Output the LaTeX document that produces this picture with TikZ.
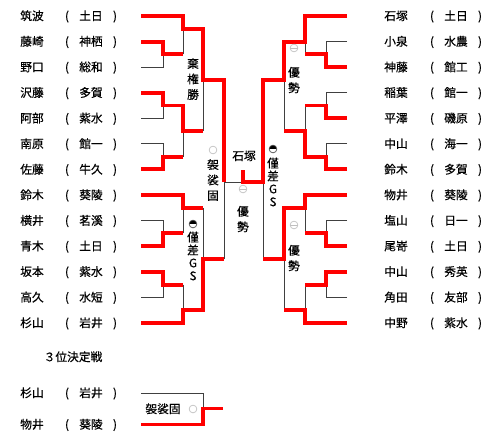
\documentclass[tikz,border=0pt]{standalone}
\usepackage{fontspec}
\usepackage{tikz}
\usetikzlibrary{positioning}
\newfontfamily\jpfont[FakeBold=0.5]{Noto Sans CJK JP}
\colorlet{colorWin}{red}
\colorlet{colorLose}{black!75}
\colorlet{colorMark}{gray!50}
\tikzset{
   win/.style={draw=colorWin,line width=3.4pt},
   lose/.style={draw=colorLose,line width=0.75pt},
   txt/.style={font=\jpfont\fontsize{10}{12}\selectfont,inner sep=0pt,text height=8.6pt,text depth=1.4pt},
   vtxt/.style={font=\jpfont\fontsize{10}{13.2}\selectfont,inner sep=0pt,align=center},
   gtxt/.style={font=\jpfont\fontsize{10}{11}\selectfont,inner sep=0pt,align=center},
   ippon/.style={circle,draw=colorMark,line width=0.6pt,minimum size=6.6pt,inner sep=0pt},
   yusei/.style={ippon,path picture={\draw[colorMark,line width=0.5pt] (path picture bounding box.west) -- (path picture bounding box.east);}},
   kinsa/.style={ippon,draw=black!70,path picture={\fill[black] (path picture bounding box.north west) rectangle (path picture bounding box.east);}},
}
\begin{document}
\begin{tikzpicture}[x=0.03cm,y=-0.03cm]
\useasboundingbox (0,0) rectangle (500,441);

% players
\foreach \nm/\sc [count=\i] in {筑波/土日,藤崎/神栖,野口/総和,沢藤/多賀,阿部/紫水,南原/館一,佐藤/牛久,鈴木/葵陵,横井/茗溪,青木/土日,坂本/紫水,高久/水短,杉山/岩井}{
  \pgfmathsetmacro\y{16+25.58*(\i-1)}
  \node[txt] (L\i) at (32,\y) {\nm};
  \node[txt] (Lo\i) at (67,\y) {(};
  \node[txt] (Ls\i) at (91,\y) {\sc};
  \node[txt] (Lc\i) at (115,\y) {)};
  \coordinate (a\i) at (141,\y);
}
\foreach \nm/\sc [count=\i] in {石塚/土日,小泉/水農,神藤/館工,稲葉/館一,平澤/磯原,中山/海一,鈴木/多賀,物井/葵陵,塩山/日一,尾嵜/土日,中山/秀英,角田/友部,中野/紫水}{
  \pgfmathsetmacro\y{16+25.58*(\i-1)}
  \node[txt] (R\i) at (396,\y) {\nm};
  \node[txt] (Ro\i) at (432,\y) {(};
  \node[txt] (Rs\i) at (456,\y) {\sc};
  \node[txt] (Rc\i) at (480,\y) {)};
  \coordinate (b\i) at (347,\y);
}

% match points
\coordinate (p1) at (163,54.4);  \coordinate (p2) at (163,105.5);
\coordinate (p3) at (163,156.7); \coordinate (p4) at (163,233.4);
\coordinate (p5) at (163,284.6);
\coordinate (q1) at (183,28.8);  \coordinate (q2) at (183,131.1);
\coordinate (q3) at (183,207.9); \coordinate (q4) at (183,310.2);
\coordinate (r1) at (203,80);    \coordinate (r2) at (203,259);
\coordinate (s1) at (224,182.3);
\coordinate (u1) at (326,54.4);  \coordinate (u2) at (326,105.5);
\coordinate (u3) at (326,156.7); \coordinate (u4) at (326,233.4);
\coordinate (u5) at (326,284.6);
\coordinate (v1) at (305,41.6);  \coordinate (v2) at (305,131.1);
\coordinate (v3) at (305,207.9); \coordinate (v4) at (305,310.2);
\coordinate (w1) at (284,80);    \coordinate (w2) at (284,259);
\coordinate (s2) at (263,182.3);
\coordinate (fin) at (243,182.3);

% losing lines
\draw[lose] (a3) -| (p1);
\draw[lose] (p1 -| q1) -- (q1);
\draw[lose] (a5) -| (p2);
\draw[lose] (a6) -| (p3);
\draw[lose] (p3 -| q2) -- (q2);
\draw[lose] (q2 -| r1) -- (r1);
\draw[lose] (q3 -| r2) -- (r2);
\draw[lose] (a9) -| (p4);
\draw[lose] (p4 -| q3) -- (q3);
\draw[lose] (a12) -| (p5);
\draw[lose] (p5 -| q4) -- (q4);
\draw[lose] (r2 -| s1) -- (s1);
\draw[lose] (s1) -- (s2);
\draw[lose] (b2) -| (u1);
\draw[lose] (u1 -| v1) -- (v1);
\draw[lose] (b4) -| (u2);
\draw[lose] (u2 -| v2) -- (v2);
\draw[lose] (b6) -| (u3);
\draw[lose] (v2 -| w1) -- (w1);
\draw[lose] (w2 -| s2) -- (s2);
\draw[lose] (b9) -| (u4);
\draw[lose] (u4 -| v3) -- (v3);
\draw[lose] (u5 -| v4) -- (v4);
\draw[lose] (b12) -| (u5);
\draw[lose] (v4 -| w2) -- (w2);

% winning lines
\draw[win] (a1) -| (q1) -| (r1) -| (s1);
\draw[win] (a2) -| (p1) -- (p1 -| q1);
\draw[win] (a4) -| (p2) -| (q2) -- (q2 -| r1);
\draw[win] (a7) -| (p3) -- (p3 -| q2);
\draw[win] (a8) -| (q3) -- (q3 -| r2);
\draw[win] (a10) -| (p4) -- (p4 -| q3);
\draw[win] (a11) -| (p5) -- (p5 -| q4);
\draw[win] (a13) -| (q4) -| (r2) -- (r2 -| s1);
\draw[win] (b1) -| (v1) -| (w1) -| (s2) -- (fin) -- ++(0,-12.3);
\draw[win] (b3) -| (u1) -- (u1 -| v1);
\draw[win] (b5) -| (u2) -- (u2 -| v2);
\draw[win] (b7) -| (u3) -| (v2) -- (v2 -| w1);
\draw[win] (b8) -| (v3) -| (w2) -- (w2 -| s2);
\draw[win] (b10) -| (u4) -- (u4 -| v3);
\draw[win] (b11) -| (u5) -- (u5 -| v4);
\draw[win] (b13) -| (v4) -- (v4 -| w2);

% results
\node[vtxt] (kiken) at (193,79) {棄\\権\\勝};
\node[ippon] (mk1) at (213,150) {};
\node[vtxt] (kesa1) at (213,180) {袈\\裟\\固};
\node[txt] (champ) at (244,156) {石塚};
\node[yusei] (mk2) at (243,189) {};
\node[vtxt] (yu1) at (243,219) {優\\勢};
\node[kinsa] (mk3) at (273,149) {};
\node[gtxt] (ki1) at (273,182) {僅\\差\\G\\S};
\node[kinsa] (mk4) at (193,224) {};
\node[gtxt] (ki2) at (193,256) {僅\\差\\G\\S};
\node[yusei] (mk5) at (294,48) {};
\node[vtxt] (yu2) at (294,80) {優\\勢};
\node[yusei] (mk6) at (294,225) {};
\node[vtxt] (yu3) at (294,258) {優\\勢};

% third place
\node[txt] (third) at (73,357) {３位決定戦};
\node[txt] (T1) at (32,393) {杉山};
\node[txt] (To1) at (67,393) {(};
\node[txt] (Ts1) at (91,393) {岩井};
\node[txt] (Tc1) at (115,393) {)};
\node[txt] (T2) at (32,424.5) {物井};
\node[txt] (To2) at (67,424.5) {(};
\node[txt] (Ts2) at (91,424.5) {葵陵};
\node[txt] (Tc2) at (115,424.5) {)};
\coordinate (c1) at (141,393);
\coordinate (c2) at (141,424.5);
\coordinate (t1) at (203,408.5);
\draw[lose] (c1) -| (t1);
\draw[win] (c2) -| (t1) -- ++(20,0);
\node[txt] (kesa2) at (163,409) {袈裟固};
\node[ippon] (mk7) at (193,409) {};
\end{tikzpicture}
\end{document}
